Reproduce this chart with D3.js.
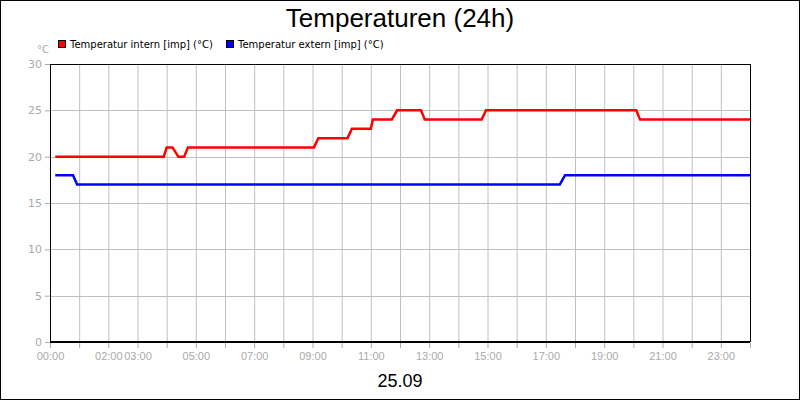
<!DOCTYPE html>
<html><head><meta charset="utf-8">
<script src="https://cdn.jsdelivr.net/npm/d3@7"></script>
<style>body{margin:0;background:#fff}</style></head>
<body><svg id="c" width="800" height="400"></svg>
<script>
const internH = [0.18,3.9,4.0,4.2,4.4,4.6,4.73,9.05,9.2,10.2,10.35,11.0,11.07,11.72,11.9,12.72,12.85,14.8,14.95,20.1,20.23,24];
const internV = [20,20,21,21,20,20,21,21,22,22,23,23,24,24,25,25,24,24,25,25,24,24];
const externH = [0.18,0.79,0.93,17.48,17.66,24];
const externV = [18,18,17,17,18,18];
const yTicks = [0,5,10,15,20,25,30];
const xLabelHours = [0,2,3,5,7,9,11,13,15,17,19,21,23];

const svg = d3.select("#c");
svg.append("rect").attr("x",0.5).attr("y",0.5).attr("width",799).attr("height",399).attr("fill","#fff").attr("stroke","#000");
const x = d3.scaleLinear().domain([0,24]).range([50,750]);
const y = d3.scaleLinear().domain([0,30]).range([342,64]);
const g = svg.append("g");
d3.range(1,24).forEach(h=>g.append("line").attr("x1",x(h)+.5).attr("x2",x(h)+.5).attr("y1",64).attr("y2",342).attr("stroke","#c0c0c0"));
yTicks.slice(1,-1).forEach(v=>g.append("line").attr("x1",50).attr("x2",750).attr("y1",Math.round(y(v))+.5).attr("y2",Math.round(y(v))+.5).attr("stroke","#c0c0c0"));
g.append("rect").attr("x",50.5).attr("y",64.5).attr("width",700).attr("height",277).attr("fill","none").attr("stroke","#000");
g.append("line").attr("x1",50).attr("x2",750).attr("y1",342).attr("y2",342).attr("stroke","#000").attr("stroke-width",2);
const ya = svg.append("g").attr("transform","translate(50,0)").call(d3.axisLeft(y).tickValues(yTicks).tickSize(5).tickPadding(3));
ya.select(".domain").remove();
ya.selectAll("line").attr("stroke","#aaa");
ya.selectAll("text").attr("fill","#aaa").style("font","11px 'DejaVu Sans'");
const xa = svg.append("g").attr("transform","translate(0,343)").call(d3.axisBottom(x).tickValues(d3.range(0,25)).tickSize(5).tickPadding(4)
  .tickFormat(h=>xLabelHours.includes(h)?String(h).padStart(2,"0")+":00":""));
xa.select(".domain").remove();
xa.selectAll("line").attr("stroke","#aaa");
xa.selectAll("text").attr("fill","#aaa").style("font","11px 'Liberation Sans Narrow', 'Liberation Sans'");
const line = d3.line().x(d=>x(d[0])).y(d=>y(d[1]));
svg.append("path").datum(externH.map((h,i)=>[h,externV[i]])).attr("d",line).attr("fill","none").attr("stroke","#0000ff").attr("stroke-width",2.5);
svg.append("path").datum(internH.map((h,i)=>[h,internV[i]])).attr("d",line).attr("fill","none").attr("stroke","#ff0000").attr("stroke-width",2.5);
svg.append("text").attr("x",400).attr("y",27).attr("text-anchor","middle").style("font","26px 'Liberation Sans'").text("Temperaturen (24h)");
svg.append("text").attr("x",400).attr("y",387).attr("text-anchor","middle").style("font","18px 'Liberation Sans'").text("25.09");
svg.append("text").attr("x",37).attr("y",53).attr("fill","#aaa").style("font","10px 'DejaVu Sans'").text("°C");
const leg = [["Temperatur intern [imp] (°C)","#ff0000",58],["Temperatur extern [imp] (°C)","#0000ff",226]];
leg.forEach(([t,c,lx])=>{
  svg.append("rect").attr("x",lx+.5).attr("y",40.5).attr("width",7).attr("height",7).attr("fill",c).attr("stroke","#000");
  svg.append("text").attr("x",lx+12).attr("y",48).style("font","10px 'DejaVu Sans'").text(t);
});
</script></body></html>
